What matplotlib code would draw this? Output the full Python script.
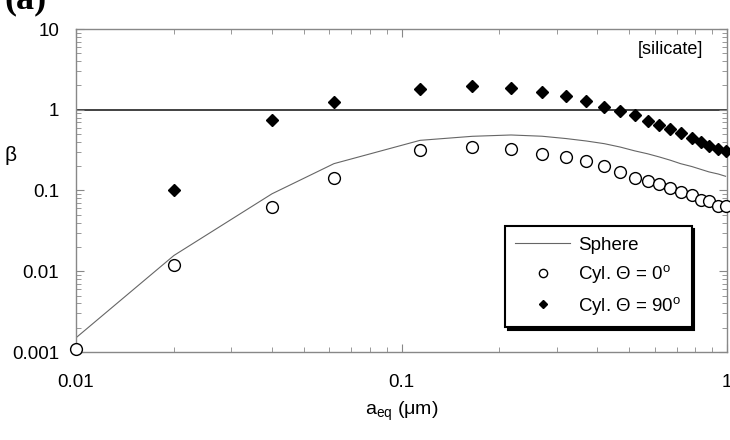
import numpy as np
import matplotlib
matplotlib.use("Agg")
import matplotlib.pyplot as plt
from matplotlib.ticker import LogLocator, NullFormatter, FixedLocator, FixedFormatter

plt.rcParams['font.family'] = ['Liberation Sans', 'DejaVu Sans']
plt.rcParams['mathtext.fontset'] = 'custom'
plt.rcParams['mathtext.rm'] = 'Liberation Sans'
plt.rcParams['mathtext.it'] = 'Liberation Sans:italic'

# grain sizes a_eq (um)
a_eq = [0.01, 0.02, 0.04, 0.062, 0.114, 0.165, 0.217, 0.27, 0.32, 0.37, 0.42,
        0.47, 0.52, 0.57, 0.62, 0.67, 0.72, 0.78, 0.83, 0.88, 0.94, 0.99]

# beta for the sphere
beta_sphere = [0.0015, 0.0157, 0.091, 0.215, 0.418, 0.469, 0.487, 0.47, 0.44, 0.41, 0.38,
               0.345, 0.31, 0.285, 0.26, 0.237, 0.215, 0.198, 0.183, 0.17, 0.16, 0.15]

# beta for the cylinder, Theta = 0
beta_cyl0 = [0.0011, 0.0119, 0.062, 0.143, 0.321, 0.343, 0.33, 0.283, 0.26, 0.232, 0.201,
             0.169, 0.143, 0.131, 0.12, 0.107, 0.097, 0.088, 0.077, 0.075, 0.065, 0.065]

# beta for the cylinder, Theta = 90 (no point at 0.01)
a_cyl90 = a_eq[1:]
beta_cyl90 = [0.1, 0.756, 1.25, 1.81, 1.96, 1.85, 1.68, 1.48, 1.29, 1.07,
              0.97, 0.85, 0.73, 0.64, 0.57, 0.52, 0.45, 0.40, 0.36, 0.33, 0.31]

ytick_vals = [0.001, 0.01, 0.1, 1, 10]
ytick_labels = ["0.001", "0.01", "0.1", "1", "10"]
xtick_vals = [0.01, 0.1, 1]
xtick_labels = ["0.01", "0.1", "1"]

fig = plt.figure(figsize=(7.3, 4.4), dpi=100)
ax = fig.add_axes([76/730, 1 - 352/440, (727-76)/730, (352-29)/440])

ax.set_xscale('log')
ax.set_yscale('log')
ax.set_xlim(0.01, 1)
ax.set_ylim(0.001, 10)

ax.axhline(1, color='#333333', lw=1.3, zorder=1)
ax.plot(a_eq, beta_sphere, color='#666666', lw=0.8, label='Sphere', zorder=2)
ax.plot(a_eq, beta_cyl0, 'o', mfc='white', mec='black', mew=1.0, ms=8.5,
        label='Cyl. Θ = 0$^{\\mathrm{o}}$', zorder=3, clip_on=False)
ax.plot(a_cyl90, beta_cyl90, 'D', color='black', ms=6.5,
        label='Cyl. Θ = 90$^{\\mathrm{o}}$', zorder=3, clip_on=False)

for s in ax.spines.values():
    s.set_color('#888888')
    s.set_linewidth(1.0)

ax.xaxis.set_major_locator(FixedLocator(xtick_vals))
ax.xaxis.set_major_formatter(FixedFormatter(xtick_labels))
ax.yaxis.set_major_locator(FixedLocator(ytick_vals))
ax.yaxis.set_major_formatter(FixedFormatter(ytick_labels))
ax.xaxis.set_minor_locator(LogLocator(base=10, subs=np.arange(2, 10)))
ax.yaxis.set_minor_locator(LogLocator(base=10, subs=np.arange(2, 10)))
ax.xaxis.set_minor_formatter(NullFormatter())
ax.yaxis.set_minor_formatter(NullFormatter())
ax.tick_params(which='both', direction='in', top=True, right=True, color='#888888')
ax.tick_params(which='major', length=6, width=0.8, labelsize=13.5)
ax.tick_params(which='minor', length=3.5, width=0.6)
ax.tick_params(axis='y', which='major', pad=12)
ax.tick_params(axis='x', which='major', pad=16)

ax.set_xlabel('a$_{\\mathrm{eq}}$ (μm)', fontsize=14, labelpad=6)
fig.text(5/730, 1 - 155/440, 'β', fontsize=15, ha='left', va='center')

fig.text(703/730, 1 - 50/440, '[silicate]', fontsize=13, ha='right', va='center')
fig.text(4/730, 1 - 8/440, '(a)', fontsize=26, fontweight='bold', family='Liberation Serif',
         ha='left', va='baseline')

leg = ax.legend(loc='lower left', bbox_to_anchor=(505/730, 1 - 327/440), bbox_transform=fig.transFigure,
                frameon=True, fancybox=False, shadow={'color': 'black', 'alpha': 1.0},
                edgecolor='black', fontsize=13.5, handlelength=2.9, labelspacing=0.5,
                borderpad=0.55, handletextpad=0.45, borderaxespad=0, markerscale=0.7)
leg.get_frame().set_linewidth(1.5)

fig.savefig('out.png', dpi=100)
